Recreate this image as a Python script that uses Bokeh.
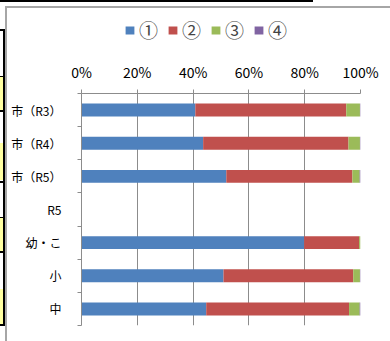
from bokeh.plotting import figure
from bokeh.models import Range1d, FixedTicker, Legend, LegendItem, ColumnDataSource
from bokeh.layouts import column
from bokeh.embed import file_html
from bokeh.resources import INLINE

categories = ["市（R3）", "市（R4）", "市（R5）", "R5", "幼・こ", "小", "中"]
series_names = ["①", "②", "③", "④"]
s1 = [40.8, 43.6, 51.9, 0, 79.8, 50.9, 44.7]
s2 = [54.1, 52.1, 45.2, 0, 19.7, 46.5, 51.2]
s3 = [4.9, 4.1, 2.6, 0, 0.5, 2.4, 3.8]
s4 = [0.2, 0.2, 0.3, 0, 0.0, 0.2, 0.3]
colors = ["#4F81BD", "#C0504D", "#9BBB59", "#8064A2"]
x_ticks = [0, 20, 40, 60, 80, 100]

FONT = "Noto Sans CJK JP"
n = len(categories)
ypos = [n - 1 - i for i in range(n)]
stack_cols = ["a", "b", "c", "d"]

src = ColumnDataSource(dict(y=ypos, a=s1, b=s2, c=s3, d=s4))

# legend strip (its bars lie outside its visible range; only the legend shows)
lg = figure(width=390, height=58, output_backend="svg", toolbar_location=None,
            x_range=Range1d(0, 100), y_range=Range1d(100, 101),
            min_border_left=81, min_border_right=30, min_border_top=0, min_border_bottom=0)
lg.axis.visible = False
lg.grid.visible = False
lg.outline_line_color = None
lg.border_fill_color = None
lg.background_fill_color = None
lg_rs = lg.hbar_stack(stack_cols, y="y", height=0.39, color=colors, line_color=None, source=src)
legend = Legend(items=[LegendItem(label=nm, renderers=[r]) for nm, r in zip(series_names, lg_rs)],
                orientation="horizontal", location=(43, 15))
legend.glyph_width = 11
legend.glyph_height = 10
legend.label_standoff = 4
legend.spacing = 8
legend.padding = 0
legend.margin = 0
legend.border_line_color = None
legend.background_fill_alpha = 0
legend.label_text_font = FONT
legend.label_text_font_size = "19px"
legend.label_height = 19
lg.add_layout(legend, "center")

p = figure(width=390, height=283, output_backend="svg", toolbar_location=None,
           x_range=Range1d(0, 100), y_range=Range1d(-0.5, n - 0.5),
           x_axis_location="above", min_border_left=81, min_border_right=30,
           min_border_top=34, min_border_bottom=16)
p.outline_line_color = None
p.border_fill_color = None
p.background_fill_color = "#FFFFFF"

p.hbar_stack(stack_cols, y="y", height=0.39, color=colors, line_color=None, source=src)

p.xaxis.ticker = FixedTicker(ticks=x_ticks)
p.xaxis.major_label_overrides = {t: f"{t}%" for t in x_ticks}
p.xaxis.major_tick_out = 4
p.xaxis.major_tick_in = 0
p.xaxis.minor_tick_line_color = None
p.xaxis.axis_line_color = "#8C8C8C"
p.xaxis.major_tick_line_color = "#8C8C8C"
p.xaxis.major_label_text_font = FONT
p.xaxis.major_label_text_font_size = "14px"
p.xaxis.major_label_text_color = "#000000"
p.xaxis.major_label_standoff = 8

p.yaxis.ticker = FixedTicker(ticks=ypos, minor_ticks=[i - 0.5 for i in range(n + 1)])
p.yaxis.major_label_overrides = {y: c for y, c in zip(ypos, categories)}
p.yaxis.major_tick_line_color = None
p.yaxis.minor_tick_out = 4
p.yaxis.minor_tick_in = 0
p.yaxis.minor_tick_line_color = "#8C8C8C"
p.yaxis.axis_line_color = "#8C8C8C"
p.yaxis.major_label_text_font = FONT
p.yaxis.major_label_text_font_size = "12px"
p.yaxis.major_label_text_color = "#000000"
p.yaxis.major_label_standoff = 14

p.xgrid.ticker = FixedTicker(ticks=x_ticks)
p.xgrid.grid_line_color = "#8C8C8C"
p.ygrid.grid_line_color = None

# page furniture around the chart box (sheet borders), drawn as CSS background
def seg(color, x, y, w, h):
    return f"linear-gradient({color},{color}) {x}px {y}px / {w}px {h}px no-repeat"

bg_parts = [
    seg("#000000", 0, 0, 313, 2),
    seg("#A6A6A6", 5, 6, 385, 2),
    seg("#A6A6A6", 5, 6, 2, 335),
    seg("#000000", 3, 29, 2, 297),
]
for y0, y1 in [(77, 110), (143, 180), (218, 251), (289, 324)]:
    bg_parts.append(seg("#FFFFA0", 0, y0, 3, y1 - y0))
for yb in [29, 76, 110, 143, 181, 217, 251, 289, 324]:
    bg_parts.append(seg("#000000", 0, yb, 5, 2))
bg_parts.append("#FFFFFF")

layout = column(lg, p, spacing=0, styles={"background": ", ".join(bg_parts)})
open("out.html", "w").write(file_html(layout, INLINE))
